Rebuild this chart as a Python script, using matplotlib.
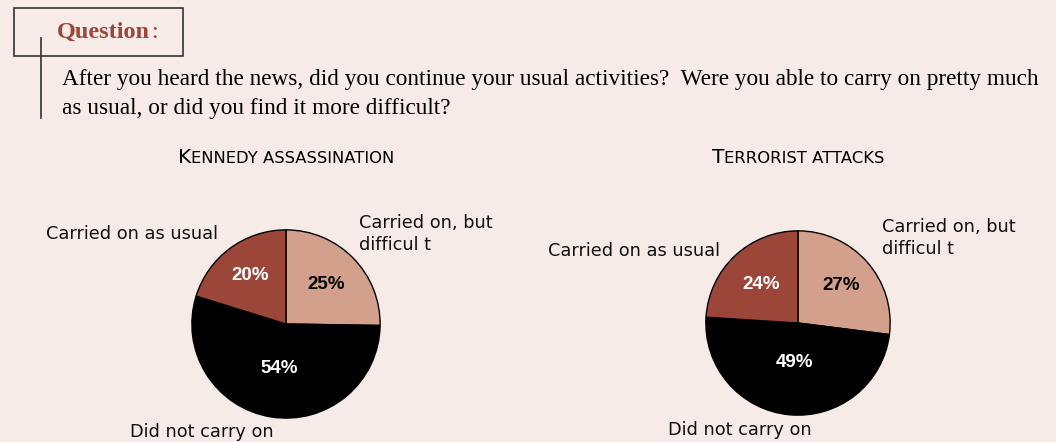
import numpy as np
import matplotlib
matplotlib.use("Agg")
import matplotlib.pyplot as plt
from matplotlib.patches import Rectangle
from matplotlib.lines import Line2D

# survey answers (percent), order: carried on but difficult, did not carry on, carried on as usual
answers = ["Carried on, but\ndifficul t", "Did not carry on", "Carried on as usual"]
kennedy = [25, 54, 20]
terror = [27, 49, 24]
titles = [("K", "ENNEDY ASSASSINATION"), ("T", "ERRORIST ATTACKS")]
question = ("After you heard the news, did you continue your usual activities?  "
            "Were you able to carry on pretty much\nas usual, or did you find it more difficult?")

bg = "#f6ebe7"
red = "#9c463a"
light = "#d3a08c"
colors = [light, "black", red]

W, H = 1056, 442
fig = plt.figure(figsize=(W / 100, H / 100), dpi=100, facecolor=bg)
renderer = fig.canvas.get_renderer()


def fx(x):
    return x / W


def fy(y):
    return 1 - y / H


def width_px(txt, **kw):
    t = fig.text(0, 0, txt, **kw)
    w = t.get_window_extent(renderer).width
    t.remove()
    return w


# question box
fig.patches.append(Rectangle((fx(14), fy(56)), fx(183) - fx(14), fy(8) - fy(56),
                             transform=fig.transFigure, fill=False, ec="#333333", lw=1.2))
fig.lines.append(Line2D([fx(41), fx(41)], [fy(38), fy(118)], transform=fig.transFigure,
                        color="#333333", lw=1.2))
qkw = dict(family="Liberation Serif", weight="bold", size=17.5, color=red)
fig.text(fx(57), fy(32), "Question", va="center", **qkw)
qw = width_px("Question", **qkw)
fig.text(fx(57 + qw + 1), fy(32), ":", family="Liberation Serif", size=17.5, color=red,
         va="center")
fig.text(fx(62), fy(94), question, family="Liberation Serif", size=16.75, va="center",
         linespacing=1.45)


def draw_pie(vals, cx, cy, r, title, lbl_pos, pct_dist):
    ax = fig.add_axes([fx(cx - r), fy(cy + r), 2 * r / W, 2 * r / H])
    wedges, _ = ax.pie(vals, colors=colors, startangle=90, counterclock=False,
                       wedgeprops=dict(edgecolor="black", linewidth=1))
    ax.set_xlim(-1.02, 1.02)
    ax.set_ylim(-1.02, 1.02)
    ax.axis("off")
    for w, v, d, c in zip(wedges, vals, pct_dist, colors):
        a = np.deg2rad((w.theta1 + w.theta2) / 2)
        ax.text(d * np.cos(a), d * np.sin(a), f"{v}%", ha="center", va="center",
                family="Liberation Sans", weight="bold", size=13.5,
                color="black" if c == light else "white")
    # title in small caps style
    big, small = title
    bkw = dict(size=14.5, family="DejaVu Sans")
    skw = dict(size=11.8, family="DejaVu Sans")
    wb = width_px(big, **bkw)
    ws = width_px(small, **skw)
    start = cx - (wb + ws) / 2
    fig.text(fx(start), fy(163), big, ha="left", va="baseline", **bkw)
    fig.text(fx(start + wb), fy(163), small, ha="left", va="baseline", **skw)
    for txt, (x, y, ha) in zip(answers, lbl_pos):
        fig.text(fx(x), fy(y), txt, size=12.8, ha=ha, va="center", family="DejaVu Sans",
                 color="#111111", linespacing=1.3)


draw_pie(kennedy, 286, 324, 96, titles[0],
         [(359, 234, "left"), (202, 432, "center"), (218, 234, "right")], [0.6, 0.48, 0.64])
draw_pie(terror, 798, 323, 94, titles[1],
         [(882, 238, "left"), (740, 430, "center"), (720, 251, "right")], [0.62, 0.43, 0.58])

fig.savefig("out.png", dpi=100, facecolor=bg)
